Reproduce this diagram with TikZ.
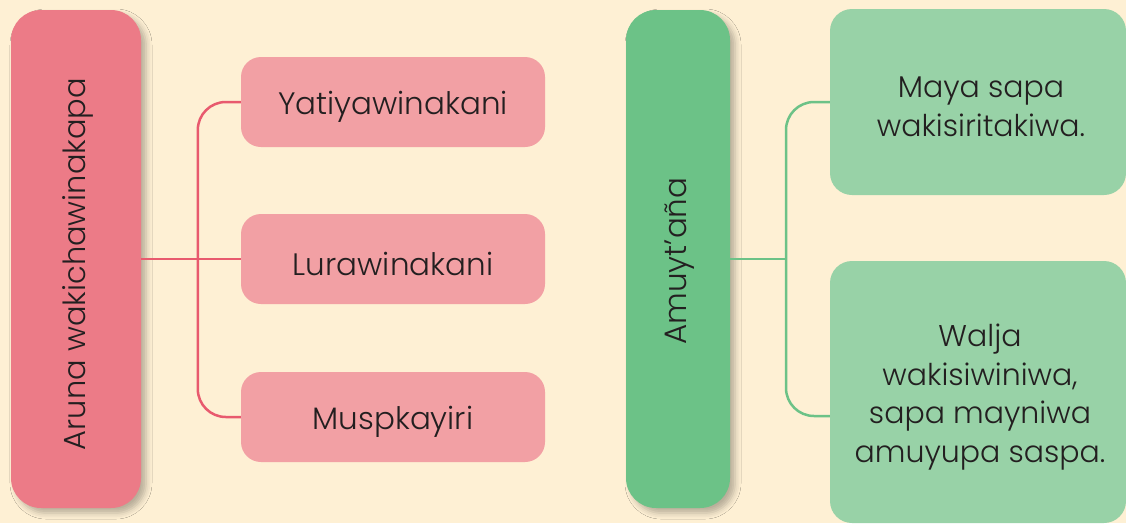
\documentclass[tikz,border=0pt]{standalone}
\usepackage{fontspec}
\setmainfont{Poppins}[UprightFont=* Light]
\usetikzlibrary{shadows.blur}
\definecolor{bg}{HTML}{FEF0D4}
\definecolor{redtall}{HTML}{EC7B87}
\definecolor{pinkbox}{HTML}{F2A0A4}
\definecolor{redline}{HTML}{E85A6E}
\definecolor{greentall}{HTML}{6CC287}
\definecolor{greenbox}{HTML}{98D2A7}
\definecolor{greenline}{HTML}{6CC287}
\definecolor{txt}{HTML}{231F20}
\begin{document}
\begin{tikzpicture}[x=1pt,y=-1pt,
  tallbox/.style={rounded corners=30pt, inner sep=0pt,
    blur shadow={shadow xshift=5pt, shadow yshift=-5pt, shadow blur radius=6pt, shadow opacity=28}},
  talltext/.style={rotate=90, text=txt, inner sep=0pt},
  pinkstyle/.style={fill=pinkbox, rounded corners=20pt, minimum width=304pt, minimum height=90pt, inner sep=0pt},
  greenstyle/.style={fill=greenbox, rounded corners=22pt, minimum width=296pt, inner sep=0pt},
  boxtext/.style={text=txt, inner sep=0pt, align=center},
  redconn/.style={draw=redline, line width=2.5pt},
  greenconn/.style={draw=greenline, line width=2.5pt}]
\useasboundingbox (0,0) rectangle (1126,523);
\fill[bg] (0,0) rectangle (1126,523);
% left group
\node[tallbox, fill=redtall, minimum width=130pt, minimum height=498pt] (t1) at (76,259) {};
\node[talltext, font=\fontsize{30.5}{36}\selectfont] (t1text) at ([xshift=2pt,yshift=-5pt]t1.center) {Aruna wakichawinakapa};
\node[pinkstyle] (p1) at (393,102) {};
\node[pinkstyle] (p2) at (393,259) {};
\node[pinkstyle] (p3) at (393,417) {};
\node[boxtext, font=\fontsize{31}{36}\selectfont] (p1text) at ([yshift=-5pt]p1.center) {Yatiyawinakani};
\node[boxtext, font=\fontsize{31}{36}\selectfont] (p2text) at ([yshift=-5pt]p2.center) {Lurawinakani};
\node[boxtext, font=\fontsize{31}{36}\selectfont] (p3text) at ([yshift=-5pt]p3.center) {Muspkayiri};
\draw[redconn] (t1.east) -- (p2.west);
\draw[redconn, rounded corners=28pt] (p1.west) -- ++(-43,0) |- (p3.west);
% right group
\node[tallbox, fill=greentall, minimum width=104pt, minimum height=498pt] (t2) at (678,259) {};
\node[talltext, font=\fontsize{31}{36}\selectfont] (t2text) at ([xshift=2pt,yshift=-2pt]t2.center) {Amuyt’aña};
\node[greenstyle, minimum height=186pt] (g1) at (978,102) {};
\node[greenstyle, minimum height=262pt] (g2) at (978,392) {};
\node[boxtext, font=\fontsize{30}{38.5}\selectfont] (g1text) at ([xshift=3pt,yshift=-5pt]g1.center) {Maya sapa\\wakisiritakiwa.};
\node[boxtext, font=\fontsize{30}{38.5}\selectfont] (g2text) at ([xshift=2pt,yshift=-5pt]g2.center) {Walja\\wakisiwiniwa,\\sapa mayniwa\\amuyupa saspa.};
\coordinate (gj) at (786,259);
\draw[greenconn] (t2.east) -- (gj);
\draw[greenconn, rounded corners=28pt] (g1.west |- 0,102) -- (gj |- 0,102) -- (gj |- 0,416) -- (g2.west |- 0,416);
\end{tikzpicture}
\end{document}
